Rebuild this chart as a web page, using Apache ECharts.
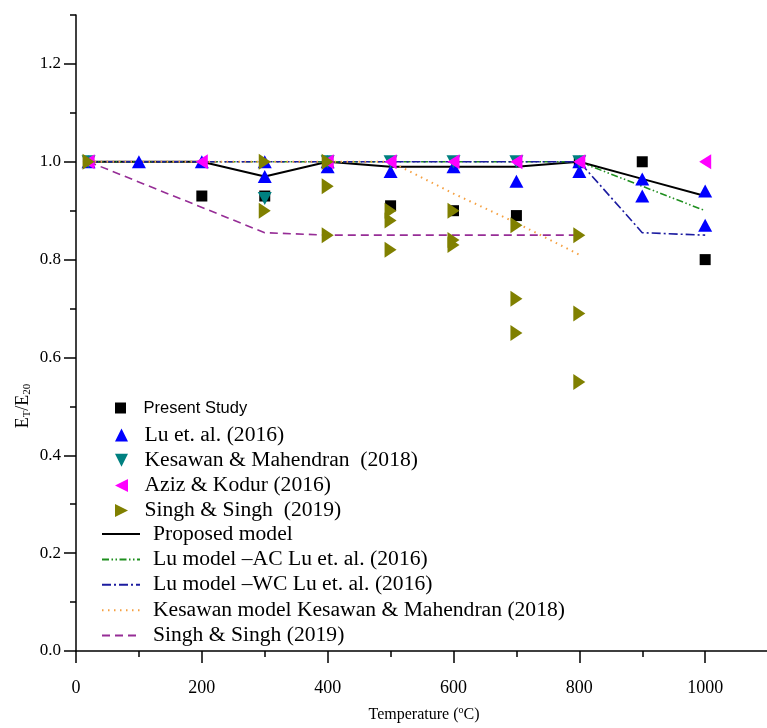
<!DOCTYPE html>
<html><head><meta charset="utf-8">
<script src="https://cdn.jsdelivr.net/npm/echarts@6/dist/echarts.min.js"></script>
<style>html,body{margin:0;padding:0;background:#fff}#c{width:767px;height:728px}</style>
</head><body><div id="c"></div>
<script>
// ---- data ----
const xTicks = [0, 200, 400, 600, 800, 1000];
const yTicks = [0, 0.2, 0.4, 0.6, 0.8, 1.0, 1.2];

const presentT = [20, 200, 300, 400, 500, 600, 700, 800, 900, 1000];
const presentE = [1.0, 0.93, 0.93, 1.0, 0.91, 0.90, 0.89, 1.0, 1.0, 0.80];

const luT = [20, 100, 200, 300, 300, 400, 400, 500, 600, 700, 800, 800, 900, 900, 1000, 1000];
const luE = [1.0, 1.0, 1.0, 1.0, 0.97, 1.0, 0.99, 0.98, 0.99, 0.96, 1.0, 0.98, 0.965, 0.93, 0.94, 0.87];

const kesT = [20, 300, 400, 500, 600, 700, 800];
const kesE = [1.0, 0.925, 1.0, 1.0, 1.0, 1.0, 1.0];

const azizT = [20, 200, 400, 500, 600, 700, 800, 1000];
const azizE = [1.0, 1.0, 1.0, 1.0, 1.0, 1.0, 1.0, 1.0];

const singhT = [20, 300, 300, 400, 400, 400, 500, 500, 500, 600, 600, 600, 700, 700, 700, 800, 800, 800];
const singhE = [1.0, 1.0, 0.90, 1.0, 0.95, 0.85, 0.90, 0.88, 0.82, 0.90, 0.84, 0.83, 0.87, 0.72, 0.65, 0.85, 0.69, 0.55];

const propT = [20, 200, 300, 400, 500, 600, 700, 800, 900, 1000];
const propE = [1.0, 1.0, 0.97, 1.0, 0.99, 0.99, 0.99, 1.0, 0.965, 0.93];

const luACT = [20, 800, 900, 1000];
const luACE = [1.0, 1.0, 0.95, 0.90];

const luWCT = [20, 800, 900, 1000];
const luWCE = [1.0, 1.0, 0.855, 0.85];

const kesModT = [20, 500, 600, 700, 800];
const kesModE = [1.0, 1.0, 0.935, 0.875, 0.81];

const singhModT = [20, 300, 400, 500, 600, 700, 800];
const singhModE = [1.0, 0.855, 0.85, 0.85, 0.85, 0.85, 0.85];

const scatterNames = ['Present Study', 'Lu et. al. (2016)', 'Kesawan & Mahendran  (2018)', 'Aziz & Kodur (2016)', 'Singh & Singh  (2019)'];
const lineNames = ['Proposed model', 'Lu model \u2013AC Lu et. al. (2016)', 'Lu model \u2013WC Lu et. al. (2016)', 'Kesawan model Kesawan & Mahendran (2018)', 'Singh & Singh (2019)'];

// ---- build ----
const pair = (t, e) => t.map((v, i) => [v, e[i]]);
const SERIF = '"Liberation Serif","Times New Roman",serif';
const SANS = '"Liberation Sans",Arial,sans-serif';
const SQUARE = 'path://M0,0L10,0L10,10L0,10Z';
const TRI_UP = 'path://M5,0L10,10L0,10Z';
const TRI_DOWN = 'path://M0,0L10,0L5,10Z';
const TRI_LEFT = 'path://M0,5L10,0L10,10Z';
const TRI_RIGHT = 'path://M0,0L10,5L0,10Z';
const BLACK = '#000';

function lineSeries(name, t, e, color, type, width) {
  return { name, type: 'line', data: pair(t, e), symbol: 'none', showSymbol: false,
    lineStyle: { color, type, width }, itemStyle: { color }, z: 2 };
}
function scatterSeries(name, t, e, color, symbol, size) {
  return { name, type: 'scatter', data: pair(t, e), symbol, symbolSize: size,
    itemStyle: { color, opacity: 1 }, z: 3 };
}

const chart = echarts.init(document.getElementById('c'), null, { renderer: 'canvas' });
const tickStyle = { color: BLACK, width: 1.5 };

const option = {
  animation: false,
  backgroundColor: '#fff',
  grid: { left: 76, right: -64, top: 15, bottom: 77, containLabel: false, outerBoundsMode: 'none' },
  xAxis: {
    type: 'value', min: 0, max: 1200, interval: 200,
    axisLine: { show: true, lineStyle: { color: BLACK, width: 1.5 } },
    axisTick: { show: true, length: 12, inside: false, lineStyle: tickStyle },
    minorTick: { show: true, splitNumber: 2, length: 6, lineStyle: tickStyle },
    splitLine: { show: false }, minorSplitLine: { show: false },
    axisLabel: { margin: 28, fontFamily: SERIF, fontSize: 18, color: BLACK,
      formatter: v => xTicks.indexOf(v) >= 0 ? String(v) : '' }
  },
  yAxis: [
    {
      type: 'value', min: 0, max: 1.3, interval: 0.1,
      axisLine: { show: true, lineStyle: { color: BLACK, width: 1.5 } },
      axisTick: { show: true, length: 6, inside: false, lineStyle: tickStyle },
      splitLine: { show: false },
      axisLabel: { margin: 15, fontFamily: SERIF, fontSize: 17, color: BLACK,
        formatter: v => { const k = Math.round(v * 10); return yTicks.some(t => Math.round(t * 10) === k) ? (k / 10).toFixed(1) : ''; } }
    },
    {
      type: 'value', min: 0, max: 1.3, interval: 0.2, position: 'left',
      axisLine: { show: false },
      axisTick: { show: true, length: 12, inside: false, lineStyle: tickStyle, customValues: yTicks },
      axisLabel: { show: false },
      splitLine: { show: false }
    }
  ],
  legend: [
    { data: [scatterNames[0]], orient: 'vertical', left: 110, top: 393, itemWidth: 20, itemHeight: 11,
      selectedMode: false, itemGap: 5,
      textStyle: { fontFamily: SANS, fontSize: 16.5, color: BLACK, lineHeight: 20, padding: [0, 0, 0, 8] } },
    { data: scatterNames.slice(1), orient: 'vertical', left: 110, top: 418, itemWidth: 20, itemHeight: 13,
      selectedMode: false, itemGap: 1.2,
      textStyle: { fontFamily: SERIF, fontSize: 21.6, color: BLACK, lineHeight: 24, padding: [0, 0, 0, 8] } },
    { data: lineNames, orient: 'vertical', left: 96, top: 517, itemWidth: 38, itemHeight: 12,
      selectedMode: false, itemGap: 1.4,
      itemStyle: { opacity: 0 },
      textStyle: { fontFamily: SERIF, fontSize: 21.6, color: BLACK, lineHeight: 24, padding: [0, 0, 0, 8] } }
  ],
  graphic: [
    { type: 'text', x: 424, y: 714,
      style: { text: '{a|Temperature (}{s|o}{a|C)}', align: 'center', verticalAlign: 'middle',
        rich: { a: { fontFamily: SERIF, fontSize: 16, fill: BLACK, lineHeight: 18, verticalAlign: 'bottom' },
                s: { fontFamily: SERIF, fontSize: 10, fill: BLACK, lineHeight: 10, verticalAlign: 'top' } } } },
    { type: 'text', x: 23, y: 406, rotation: Math.PI / 2,
      style: { text: '{a|E}{b|T}{a|/E}{b|20}', align: 'center', verticalAlign: 'middle',
        rich: { a: { fontFamily: SERIF, fontSize: 18, fill: BLACK, lineHeight: 19, verticalAlign: 'bottom' },
                b: { fontFamily: SERIF, fontSize: 11, fill: BLACK, lineHeight: 7, verticalAlign: 'bottom' } } } }
  ],
  series: [
    lineSeries(lineNames[0], propT, propE, '#000000', 'solid', 2),
    lineSeries(lineNames[1], luACT, luACE, '#1f8f1f', [7, 2.5, 1.5, 2.5, 1.5, 2.5], 1.6),
    lineSeries(lineNames[2], luWCT, luWCE, '#1c1ca0', [9, 3, 2, 3], 1.6),
    lineSeries(lineNames[3], kesModT, kesModE, '#f5a040', [1.5, 4.5], 2),
    lineSeries(lineNames[4], singhModT, singhModE, '#962d96', [8, 5], 1.6),
    scatterSeries(scatterNames[0], presentT, presentE, '#000000', SQUARE, [11, 11]),
    scatterSeries(scatterNames[1], luT, luE, '#0000ff', TRI_UP, [14, 13]),
    scatterSeries(scatterNames[2], kesT, kesE, '#008080', TRI_DOWN, [14, 13]),
    scatterSeries(scatterNames[3], azizT, azizE, '#ff00ff', TRI_LEFT, [12, 15]),
    scatterSeries(scatterNames[4], singhT, singhE, '#808000', TRI_RIGHT, [12, 16])
  ]
};
chart.setOption(option);
</script>
</body></html>
